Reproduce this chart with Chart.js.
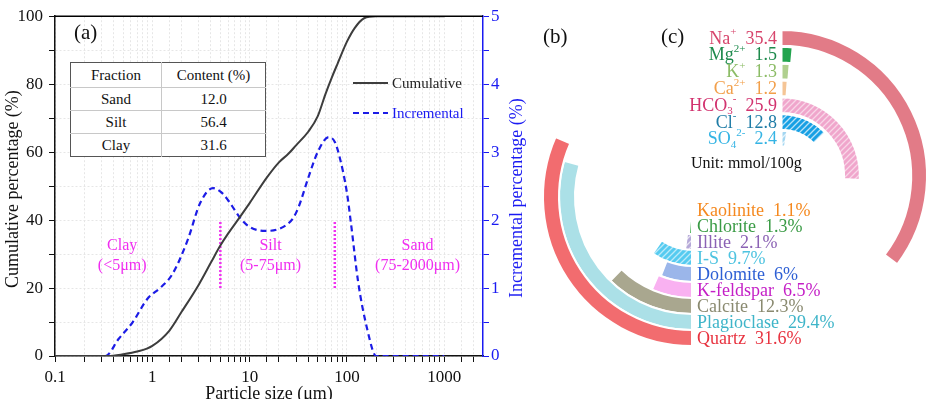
<!DOCTYPE html>
<html>
<head>
<meta charset="utf-8">
<script src="https://cdn.jsdelivr.net/npm/chart.js@4.4.0/dist/chart.umd.min.js"></script>
<style>
  html, body { margin: 0; padding: 0; background: #fff; }
  body { width: 939px; height: 399px; overflow: hidden; font-family: 'Liberation Serif', 'Times New Roman', serif; }
  #wrap { position: relative; width: 939px; height: 399px; }
  canvas { position: absolute; }
  #chartA { left: 0; top: 0; }
  #chartB, #chartC { left: 530px; top: 0; }
  .tag { position: absolute; font-size: 21px; line-height: 1; color: #111; }
  #unit { position: absolute; left: 691px; top: 155px; font-size: 16px; line-height: 1; color: #111; }
  #tbl { position: absolute; left: 70px; top: 62px; width: 196px; height: 93px; border-collapse: collapse;
         border: 1px solid #555; font-size: 15px; color: #111; background: #fff; }
  #tbl th, #tbl td { font-weight: normal; text-align: center; padding: 0; }
  #tbl th { height: 24px; }
  #tbl td { border-top: 1px solid #c8c8c8; height: 22px; }
  #tbl th:first-child, #tbl td:first-child { border-right: 1px solid #c8c8c8; width: 90px; }
</style>
</head>
<body>
<div id="wrap">
  <canvas id="chartA" width="530" height="399"></canvas>
  <canvas id="chartB" width="409" height="399"></canvas>
  <canvas id="chartC" width="409" height="399"></canvas>
  <table id="tbl"></table>
  <div class="tag" style="left:74px; top:22px;">(a)</div>
  <div class="tag" style="left:543px; top:26px;">(b)</div>
  <div class="tag" style="left:661px; top:26px;">(c)</div>
  <div id="unit">Unit: mmol/100g</div>
</div>
<script>
// ---- data ----
// (a) particle size distribution
var cumSize  = [0.1, 0.35, 0.5, 0.7, 1, 1.5, 2, 3, 4, 5, 6, 8, 10, 15, 20, 25, 30, 40, 50, 60, 70, 80, 100, 120, 150, 200, 1000];
var cumValue = [0, 0, 0.5, 1.3, 3, 7.5, 13, 21, 27.5, 32.5, 36, 41, 45, 52.5, 57, 59.5, 62, 66, 70.5, 77, 82, 86, 92.5, 96.5, 99.4, 100, 100];

var incSize  = [0.1, 0.33, 0.45, 0.63, 0.9, 1.2, 1.6, 2.3, 3.1, 4.2, 5.2, 6.3, 8, 10, 14.5, 19, 24, 28, 32, 40, 50, 65, 75, 85, 100, 110, 130, 160, 200, 1000];
var incValue = [0, 0, 0.25, 0.5, 0.85, 1.0, 1.2, 1.7, 2.25, 2.47, 2.4, 2.25, 2.03, 1.9, 1.84, 1.86, 1.93, 2.03, 2.2, 2.62, 3.0, 3.22, 3.15, 2.9, 2.4, 1.95, 1.1, 0.42, 0, 0];

var boundarySize = [5, 75];
var boundaryRange = [20, 40];

var regionNames = ['Clay', 'Silt', 'Sand'];
var regionRanges = ['(<5\u03bcm)', '(5-75\u03bcm)', '(75-2000\u03bcm)'];

var fractionNames = ['Sand', 'Silt', 'Clay'];
var fractionContent = ['12.0', '56.4', '31.6'];

// (b) mineral composition (%), listed top to bottom
var mineralNames = ['Kaolinite', 'Chlorite', 'Illite', 'I-S', 'Dolomite', 'K-feldspar', 'Calcite', 'Plagioclase', 'Quartz'];
var mineralPercent = [1.1, 1.3, 2.1, 9.7, 6, 6.5, 12.3, 29.4, 31.6];

// (c) soluble ions (mmol/100g), listed top to bottom
var ionNames = ['Na^+', 'Mg^2+', 'K^+', 'Ca^2+', 'HCO_3^-', 'Cl^-', 'SO_4^2-'];
var ionContent = [35.4, 1.5, 1.3, 1.2, 25.9, 12.8, 2.4];

var radialMax = 100;

// ---- styles ----
Chart.defaults.font.family = "'Liberation Serif', 'Times New Roman', serif";
Chart.defaults.color = '#111';

var SERIF = "'Liberation Serif', 'Times New Roman', serif";
var BLUE = '#1a1af2';
var MAGENTA = '#f02ef0';

function hatch(base, stripe) {
  var c = document.createElement('canvas');
  c.width = 6; c.height = 6;
  var g = c.getContext('2d');
  g.fillStyle = base;
  g.fillRect(0, 0, 6, 6);
  g.strokeStyle = stripe;
  g.lineWidth = 1.3;
  g.beginPath();
  g.moveTo(0, 6); g.lineTo(6, 0);
  g.moveTo(-1, 1); g.lineTo(1, -1);
  g.moveTo(5, 7); g.lineTo(7, 5);
  g.stroke();
  return g.createPattern(c, 'repeat');
}

var mineralBar = ['#f5a04e', '#4cb45a', hatch('#b5a9d8', 'rgba(255,255,255,0.7)'), hatch('#55cbf0', 'rgba(255,255,255,0.6)'),
                  '#9bb6ea', '#f9b1f1', '#a9a78f', '#abe0e7', '#f26c6f'];
var mineralText = ['#f5891f', '#3a9b45', '#8b62b4', '#4dc3e0', '#2d5fd4', '#c41fc6', '#8a8a70', '#3fb5c9', '#e8323f'];

var ionBar = ['#e27b87', '#22a44e', '#b0d08f', '#f5c596', hatch('#f0a6cc', 'rgba(255,255,255,0.55)'),
              hatch('#17a0e4', 'rgba(255,255,255,0.7)'), hatch('#a3d6f1', 'rgba(255,255,255,0.7)')];
var ionText = ['#d7456c', '#1e8a4c', '#8cbc66', '#f29f4a', '#d2336f', '#1f7ca6', '#35b4e4'];

// ---- table ----
var tbl = document.getElementById('tbl');
var html = '<tr><th>Fraction</th><th>Content (%)</th></tr>';
for (var i = 0; i < fractionNames.length; i++) {
  html += '<tr><td>' + fractionNames[i] + '</td><td>' + fractionContent[i] + '</td></tr>';
}
tbl.innerHTML = html;

// ---- rich text (sub/superscripts) ----
function parseRich(label) {
  var parts = [];
  var re = /([_^])?([^_^]+)/g, m;
  while ((m = re.exec(label)) !== null) {
    parts.push({ t: m[2], kind: m[1] === '^' ? 'sup' : (m[1] === '_' ? 'sub' : '') });
  }
  return parts;
}

function drawRich(ctx, parts, x, y, align, size) {
  var big = size + 'px ' + SERIF;
  var small = Math.round(size * 0.62) + 'px ' + SERIF;
  var total = 0;
  parts.forEach(function (p) {
    ctx.font = p.kind ? small : big;
    p.w = ctx.measureText(p.t).width;
    total += p.w;
  });
  var cx = align === 'right' ? x - total : x;
  ctx.textAlign = 'left';
  parts.forEach(function (p) {
    ctx.font = p.kind ? small : big;
    var dy = p.kind === 'sup' ? -size * 0.36 : (p.kind === 'sub' ? size * 0.28 : 0);
    ctx.fillText(p.t, cx, y + dy);
    cx += p.w;
  });
}

// ---- (a) line chart ----
function toPoints(xs, ys) {
  return xs.map(function (x, i) { return { x: x, y: ys[i] }; });
}

var panelA = {
  id: 'panelA',
  afterDraw: function (chart) {
    var ctx = chart.ctx, a = chart.chartArea, x = chart.scales.x, y = chart.scales.y;
    ctx.save();
    // top frame
    ctx.strokeStyle = '#000';
    ctx.lineWidth = 1.5;
    ctx.beginPath();
    ctx.moveTo(a.left, a.top);
    ctx.lineTo(a.right, a.top);
    ctx.stroke();

    // axis titles
    ctx.font = '18px ' + SERIF;
    ctx.textAlign = 'center';
    ctx.textBaseline = 'middle';
    ctx.fillStyle = '#111';
    ctx.save();
    ctx.translate(13, (a.top + a.bottom) / 2 + 3);
    ctx.rotate(-Math.PI / 2);
    ctx.fillText('Cumulative percentage (%)', 0, 0);
    ctx.restore();
    ctx.save();
    ctx.fillStyle = BLUE;
    ctx.translate(517, (a.top + a.bottom) / 2 + 12);
    ctx.rotate(-Math.PI / 2);
    ctx.fillText('Incremental percentage (%)', 0, 0);
    ctx.restore();
    ctx.textBaseline = 'alphabetic';
    ctx.fillText('Particle size (\u03bcm)', (a.left + a.right) / 2, 399);

    // region labels
    var anchors = [0.49, 16.4, 532];
    ctx.fillStyle = MAGENTA;
    ctx.font = '16px ' + SERIF;
    ctx.textBaseline = 'middle';
    regionNames.forEach(function (n, i) {
      var px = x.getPixelForValue(anchors[i]);
      ctx.fillText(n, px, y.getPixelForValue(32.5));
      ctx.fillText(regionRanges[i], px, y.getPixelForValue(26.6));
    });

    // legend
    var ds = chart.data.datasets;
    var rows = [83, 113];
    ctx.font = '15px ' + SERIF;
    ctx.textAlign = 'left';
    [0, 1].forEach(function (k) {
      ctx.strokeStyle = ds[k].borderColor;
      ctx.lineWidth = ds[k].borderWidth;
      ctx.setLineDash(ds[k].borderDash || []);
      ctx.beginPath();
      ctx.moveTo(353, rows[k]);
      ctx.lineTo(388, rows[k]);
      ctx.stroke();
      ctx.setLineDash([]);
      ctx.fillStyle = k === 0 ? '#222' : BLUE;
      ctx.fillText(ds[k].label, 392, rows[k] + 1);
    });
    ctx.restore();
  }
};

var gridColor = '#e6e6e6';

new Chart(document.getElementById('chartA'), {
  type: 'line',
  data: {
    datasets: [
      { label: 'Cumulative', data: toPoints(cumSize, cumValue), yAxisID: 'y',
        borderColor: '#3d3d3d', borderWidth: 2, pointRadius: 0, cubicInterpolationMode: 'monotone' },
      { label: 'Incremental', data: toPoints(incSize, incValue), yAxisID: 'y1',
        borderColor: '#1c1ce6', borderWidth: 2.2, borderDash: [6, 4], pointRadius: 0, cubicInterpolationMode: 'monotone' },
      { label: 'Clay/Silt', data: toPoints([boundarySize[0], boundarySize[0]], boundaryRange), yAxisID: 'y',
        borderColor: MAGENTA, borderWidth: 2.5, borderDash: [2, 2], pointRadius: 0 },
      { label: 'Silt/Sand', data: toPoints([boundarySize[1], boundarySize[1]], boundaryRange), yAxisID: 'y',
        borderColor: MAGENTA, borderWidth: 2.5, borderDash: [2, 2], pointRadius: 0 }
    ]
  },
  options: {
    responsive: false,
    animation: false,
    events: [],
    layout: { padding: { top: 15, left: 0, right: 0, bottom: 0 } },
    plugins: { legend: { display: false }, tooltip: { enabled: false } },
    scales: {
      x: {
        type: 'logarithmic', position: 'bottom', min: 0.1, max: 2500,
        afterBuildTicks: function (s) { s.ticks = s.ticks.filter(function (t) { return t.value <= 2001; }); },
        afterFit: function (s) { s.height = 43; },
        ticks: {
          autoSkip: false, maxRotation: 0, padding: 5, color: '#111', font: { size: 17 },
          callback: function (v) {
            var l = Math.log10(v);
            return Math.abs(l - Math.round(l)) < 1e-6 ? String(Number(v.toPrecision(3))) : '';
          }
        },
        grid: { color: gridColor, tickColor: '#111', tickLength: 6, lineWidth: 1 },
        border: { color: '#111', width: 1.5, dash: [2, 2] }
      },
      y: {
        position: 'left', min: 0, max: 100,
        afterFit: function (s) { s.width = 55; },
        ticks: { stepSize: 10, padding: 6, color: '#111', font: { size: 17 },
                 callback: function (v) { return v % 20 === 0 ? v : ''; } },
        grid: { color: gridColor, tickColor: '#111', tickLength: 6 },
        border: { color: '#111', width: 1.5, dash: [2, 2] }
      },
      y1: {
        position: 'right', min: 0, max: 5,
        afterFit: function (s) { s.width = 47; },
        ticks: { stepSize: 0.5, padding: 2, color: BLUE, font: { size: 17 },
                 callback: function (v) { return Number.isInteger(v) ? v : ''; } },
        grid: { drawOnChartArea: false, tickColor: BLUE, tickLength: 6 },
        border: { color: BLUE, width: 1.5 }
      }
    }
  },
  plugins: [panelA]
});

// ---- (b) & (c) radial bars ----
function ringDatasets(values, colors, bw) {
  return values.map(function (v, i) {
    return {
      data: [v, radialMax - v],
      backgroundColor: [colors[i], 'rgba(0,0,0,0)'],
      borderColor: '#fff',
      borderWidth: [bw, 0],
      hoverOffset: 0,
      hoverBorderWidth: 0
    };
  });
}

var labelsB = {
  id: 'labelsB',
  afterDraw: function (chart) {
    var ctx = chart.ctx;
    ctx.save();
    ctx.textBaseline = 'middle';
    var n = mineralNames.length;
    for (var d = 0; d < n; d++) {
      var arc = chart.getDatasetMeta(d).data[0];
      var k = n - 1 - d;
      ctx.fillStyle = mineralText[k];
      drawRich(ctx, [{ t: mineralNames[k] + '  ' + mineralPercent[k] + '%', kind: '' }],
               arc.x + 5, arc.y + (arc.innerRadius + arc.outerRadius) / 2 + 1, 'left', 18);
    }
    ctx.restore();
  }
};

var labelsC = {
  id: 'labelsC',
  afterDraw: function (chart) {
    var ctx = chart.ctx;
    ctx.save();
    ctx.textBaseline = 'middle';
    for (var d = 0; d < ionNames.length; d++) {
      var arc = chart.getDatasetMeta(d).data[0];
      var parts = parseRich(ionNames[d]);
      parts.push({ t: '  ' + ionContent[d].toFixed(1), kind: '' });
      ctx.fillStyle = ionText[d];
      drawRich(ctx, parts, arc.x - 4, arc.y - (arc.innerRadius + arc.outerRadius) / 2 + 1, 'right', 18);
    }
    ctx.restore();
  }
};

var radialOptions = function (rotation, cutout, pad) {
  return {
    responsive: false,
    animation: false,
    events: [],
    rotation: rotation,
    circumference: 360,
    cutout: cutout,
    layout: { padding: pad },
    plugins: { legend: { display: false }, tooltip: { enabled: false } }
  };
};

new Chart(document.getElementById('chartB'), {
  type: 'doughnut',
  data: { labels: ['value', 'rest'], datasets: ringDatasets(mineralPercent.slice().reverse(), mineralBar.slice().reverse(), 2) },
  options: radialOptions(180, 5, { left: 12, right: 97, top: 47, bottom: 52 }),
  plugins: [labelsB]
});

new Chart(document.getElementById('chartC'), {
  type: 'doughnut',
  data: { labels: ['value', 'rest'], datasets: ringDatasets(ionContent, ionBar, 3) },
  options: radialOptions(0, 29, { left: 103, right: 10, top: 28, bottom: 75 }),
  plugins: [labelsC]
});
</script>
</body>
</html>
